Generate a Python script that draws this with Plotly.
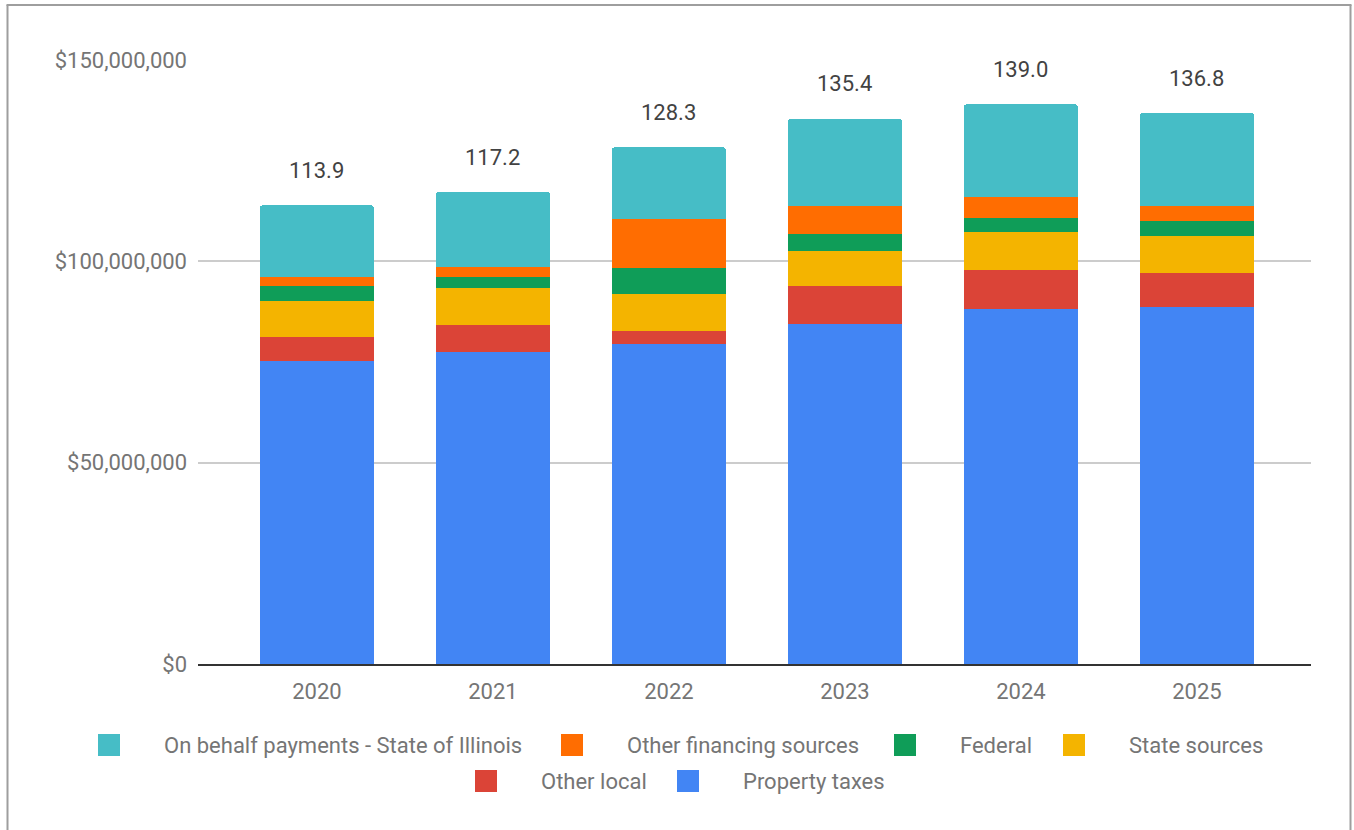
import plotly.graph_objects as go

# Revenue by source, in millions of dollars
years = ["2020", "2021", "2022", "2023", "2024", "2025"]
property_taxes = [75.2, 77.5, 79.5, 84.5, 88.1, 88.7]
other_local = [6.0, 6.7, 3.3, 9.4, 9.7, 8.4]
state_sources = [8.9, 9.2, 9.1, 8.7, 9.5, 9.2]
federal = [3.8, 2.7, 6.5, 4.2, 3.5, 3.7]
other_financing = [2.3, 2.4, 12.1, 6.9, 5.2, 3.7]
on_behalf = [17.7, 18.7, 17.8, 21.7, 23.0, 23.1]

series_names = [
    "Property taxes",
    "Other local",
    "State sources",
    "Federal",
    "Other financing sources",
    "On behalf payments - State of Illinois",
]
series_values = [property_taxes, other_local, state_sources, federal,
                 other_financing, on_behalf]
series_colors = ["#4285F4", "#DB4437", "#F4B400", "#0F9D58", "#FF6D01", "#46BDC6"]

W, H = 1354, 830
L, R, T, B = 198, 43, 60, 166
FONT = "Roboto"
FS = 22


def px_x(px):
    return (px - L) / (W - L - R)


def px_y(py):
    return (H - B - py) / (H - T - B)


fig = go.Figure()
for name, vals, color in zip(series_names, series_values, series_colors):
    fig.add_trace(go.Bar(
        x=years,
        y=[v * 1e6 for v in vals],
        name=name,
        marker=dict(color=color, line=dict(width=0)),
        showlegend=False,
        hovertemplate="%{x}: %{y:$,.0f}<extra>" + name + "</extra>",
    ))

# Total labels above each stack
totals = [sum(vals[i] for vals in series_values) for i in range(len(years))]
annotations = []
for i, tot in enumerate(totals):
    annotations.append(dict(
        x=i, y=tot * 1e6, xref="x", yref="y",
        text=f"{tot:.1f}", showarrow=False,
        yanchor="middle", yshift=35,
        font=dict(family=FONT, size=FS, color="#424242"),
    ))

# Legend drawn as swatches + labels, two centred rows
legend_rows = [
    (745, [("On behalf payments - State of Illinois", 98),
           ("Other financing sources", 561),
           ("Federal", 894),
           ("State sources", 1063)]),
    (781, [("Other local", 475),
           ("Property taxes", 677)]),
]
color_of = dict(zip(series_names, series_colors))
shapes = []
for cy, items in legend_rows:
    for name, left in items:
        shapes.append(dict(
            type="rect", xref="paper", yref="paper",
            x0=px_x(left), x1=px_x(left + 22),
            y0=px_y(cy + 11), y1=px_y(cy - 11),
            fillcolor=color_of[name], line=dict(width=0), layer="above",
        ))
        annotations.append(dict(
            x=px_x(left + 64), y=px_y(cy), xref="paper", yref="paper",
            text=name, showarrow=False, xanchor="left", yanchor="middle",
            font=dict(family=FONT, size=FS, color="#757575"),
        ))

# Outer frame (open at the bottom)
frame_col = "#9E9E9E"
shapes.append(dict(type="line", xref="paper", yref="paper",
                   x0=px_x(7.5), x1=px_x(7.5), y0=px_y(5), y1=px_y(840),
                   line=dict(color=frame_col, width=2)))
shapes.append(dict(type="line", xref="paper", yref="paper",
                   x0=px_x(1350.5), x1=px_x(1350.5), y0=px_y(5), y1=px_y(840),
                   line=dict(color=frame_col, width=2)))
shapes.append(dict(type="line", xref="paper", yref="paper",
                   x0=px_x(6.5), x1=px_x(1351.5), y0=px_y(5), y1=px_y(5),
                   line=dict(color=frame_col, width=2)))

fig.update_layout(
    width=W, height=H,
    margin=dict(l=L, r=R, t=T, b=B, pad=0),
    barmode="stack",
    bargap=0.352,
    barcornerradius=3,
    paper_bgcolor="white",
    plot_bgcolor="white",
    font=dict(family=FONT, color="#757575"),
    showlegend=False,
    annotations=annotations,
    shapes=shapes,
    xaxis=dict(
        type="category",
        range=[-0.676, 5.648],
        showgrid=False,
        showline=True, linecolor="#333333", linewidth=2,
        ticks="", ticklabelstandoff=7,
        tickfont=dict(family=FONT, size=FS, color="#757575"),
        zeroline=False,
        fixedrange=True,
    ),
    yaxis=dict(
        range=[0, 150e6],
        tickvals=[0, 50e6, 100e6, 150e6],
        ticktext=["$0", "$50,000,000", "$100,000,000", "$150,000,000"],
        showgrid=True, gridcolor="#CCCCCC", gridwidth=2,
        zeroline=False, showline=False,
        ticks="", ticklabelstandoff=10,
        tickfont=dict(family=FONT, size=FS, color="#757575"),
        fixedrange=True,
    ),
)

fig.write_html("out.html")
